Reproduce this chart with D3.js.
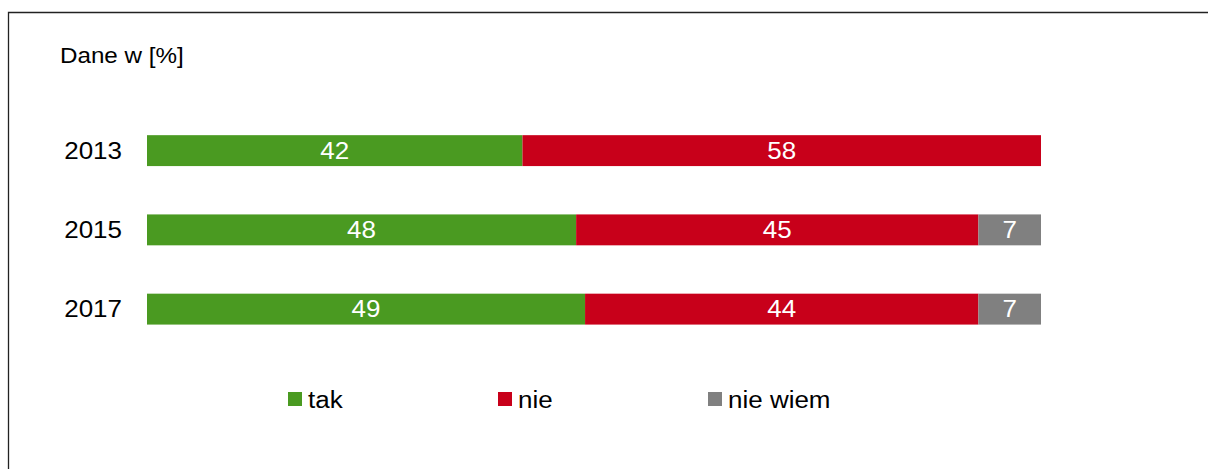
<!DOCTYPE html>
<html>
<head>
<meta charset="utf-8">
<script src="https://cdn.jsdelivr.net/npm/d3@7/dist/d3.min.js"></script>
<style>
  html, body { margin: 0; padding: 0; background: #fff; }
  svg { display: block; font-family: "Liberation Sans", Arial, sans-serif; }
</style>
</head>
<body>
<svg id="chart" width="1208" height="469"></svg>
<script>
// Survey answers per year, in percent
const years = ["2013", "2015", "2017"];
const tak = [42, 48, 49];
const nie = [58, 45, 44];
const nieWiem = [0, 7, 7];

const seriesNames = ["tak", "nie", "nie wiem"];
const seriesColors = ["#4a9a21", "#c8001a", "#808080"];
const seriesValues = [tak, nie, nieWiem];

const W = 1208, H = 469;
const FS = 23;        // base font size
const STRETCH = 1.13; // slightly wide lettering
const svg = d3.select("#chart");

// frame (top and left edges)
svg.append("path")
  .attr("d", `M8.5,${H} L8.5,12.5 L${W},12.5`)
  .attr("fill", "none")
  .attr("stroke", "#222")
  .attr("stroke-width", 1.3);

svg.append("text")
  .attr("transform", "translate(60,63) scale(1.1,1)")
  .attr("font-size", 22)
  .attr("fill", "#000")
  .text("Dane w [%]");

const x = d3.scaleLinear().domain([0, 100]).range([147, 1041]);
const y = d3.scaleBand().domain(years).range([111, 348.75])
  .paddingInner(0.61).paddingOuter(0.305);

// build stacked table
const table = years.map((yr, i) => {
  const row = { year: yr };
  seriesNames.forEach((s, k) => { row[s] = seriesValues[k][i]; });
  return row;
});
const stack = d3.stack().keys(seriesNames)(table);

const layers = svg.append("g").selectAll("g")
  .data(stack).join("g")
  .attr("fill", (d, k) => seriesColors[k]);

layers.selectAll("rect")
  .data(d => d.filter(p => p[1] - p[0] > 0))
  .join("rect")
  .attr("x", d => x(d[0]))
  .attr("y", d => y(d.data.year))
  .attr("width", d => x(d[1]) - x(d[0]))
  .attr("height", y.bandwidth());

layers.selectAll("text")
  .data(d => d.filter(p => p[1] - p[0] > 0))
  .join("text")
  .attr("transform", d =>
    `translate(${(x(d[0]) + x(d[1])) / 2},${y(d.data.year) + y.bandwidth() / 2 + 8}) scale(${STRETCH},1)`)
  .attr("text-anchor", "middle")
  .attr("font-size", FS)
  .attr("fill", "#fff")
  .text(d => d[1] - d[0]);

// category axis
const yAxis = svg.append("g")
  .attr("transform", "translate(122,0)")
  .call(d3.axisLeft(y).tickSize(0).tickPadding(0));
yAxis.select(".domain").remove();
yAxis.selectAll("text")
  .attr("font-size", FS)
  .attr("font-family", "Liberation Sans, Arial, sans-serif")
  .attr("fill", "#000")
  .attr("x", 0)
  .attr("dy", "0.36em")
  .attr("transform", `scale(${STRETCH},1)`);

// legend
const legendX = [288, 498, 708];
const legend = svg.append("g").selectAll("g")
  .data(seriesNames).join("g")
  .attr("transform", (d, k) => `translate(${legendX[k]},392)`);
legend.append("rect")
  .attr("width", 14).attr("height", 14)
  .attr("fill", (d, k) => seriesColors[k]);
legend.append("text")
  .attr("transform", `translate(20,16) scale(${STRETCH},1)`)
  .attr("font-size", FS)
  .attr("fill", "#000")
  .text(d => d);
</script>
</body>
</html>
